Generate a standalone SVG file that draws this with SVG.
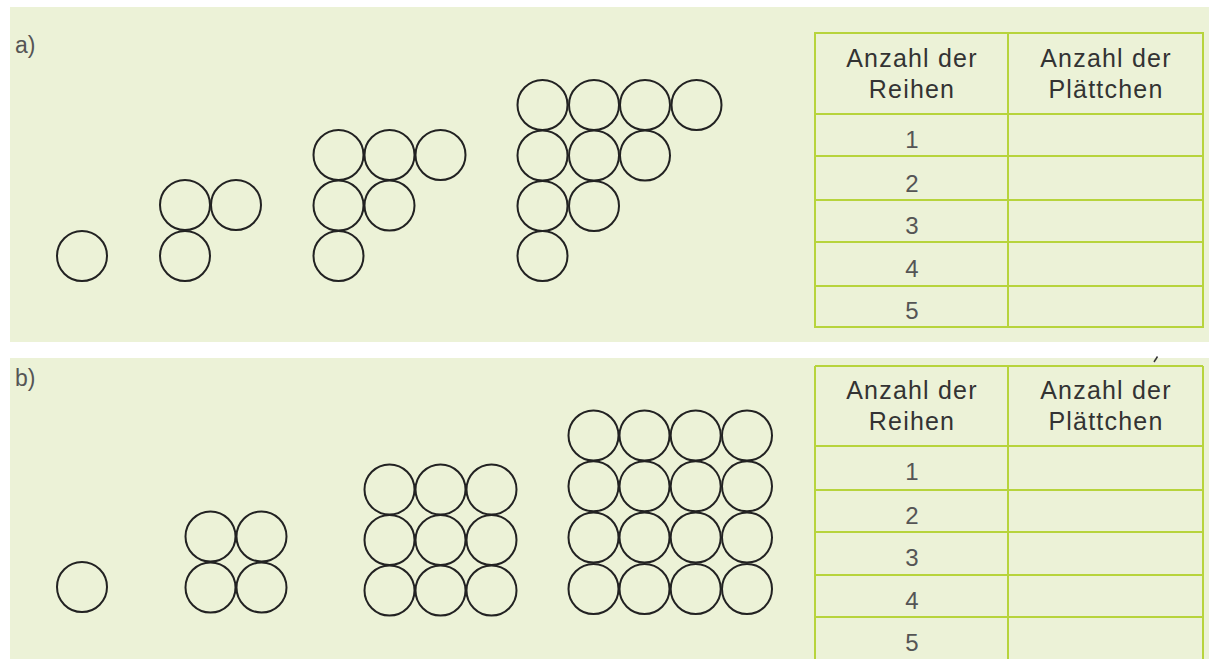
<svg xmlns="http://www.w3.org/2000/svg" width="1209" height="659" viewBox="0 0 1209 659">
<style>
.bg{fill:#ecf2d7}
.c{fill:none;stroke:#222;stroke-width:2}
.tl{fill:none;stroke:#b7d43c;stroke-width:2}
.h{font-family:"Liberation Sans",Arial,sans-serif;font-size:25px;letter-spacing:1.2px;fill:#333;text-anchor:middle}
.n{font-family:"Liberation Sans",Arial,sans-serif;font-size:24px;fill:#555;text-anchor:middle}
.lab{font-family:"Liberation Sans",Arial,sans-serif;font-size:23px;fill:#555}
</style>
<defs>
<circle id="t" r="25" class="c"/>
</defs>
<rect width="1209" height="659" fill="#fff"/>
<rect id="panelA" class="bg" x="10" y="7" width="1199" height="335"/>
<rect id="panelB" class="bg" x="10" y="358" width="1199" height="301"/>
<path d="M1157.5 356.5 L1154 362" fill="none" stroke="#333" stroke-width="1.5"/>
<text class="lab" x="15" y="53">a)</text>
<text class="lab" x="15" y="386">b)</text>
<g id="connectors"/>
<g id="a1">
<use href="#t" x="82" y="256"/>
</g>
<g id="a2">
<use href="#t" x="185" y="205"/><use href="#t" x="236" y="205"/>
<use href="#t" x="185" y="256"/>
</g>
<g id="a3">
<use href="#t" x="338.5" y="155"/><use href="#t" x="389.5" y="155"/><use href="#t" x="440.5" y="155"/>
<use href="#t" x="338.5" y="205.5"/><use href="#t" x="389.5" y="205.5"/>
<use href="#t" x="338.5" y="256"/>
</g>
<g id="a4">
<use href="#t" x="542.5" y="105"/><use href="#t" x="594" y="105"/><use href="#t" x="645" y="105"/><use href="#t" x="696.5" y="105"/>
<use href="#t" x="542.5" y="155.5"/><use href="#t" x="594" y="155.5"/><use href="#t" x="645" y="155.5"/>
<use href="#t" x="542.5" y="206"/><use href="#t" x="594" y="206"/>
<use href="#t" x="542.5" y="256"/>
</g>
<g id="b1">
<use href="#t" x="82" y="587"/>
</g>
<g id="b2">
<use href="#t" x="210.5" y="536.5"/><use href="#t" x="261.5" y="536.5"/>
<use href="#t" x="210.5" y="587.5"/><use href="#t" x="261.5" y="587.5"/>
</g>
<g id="b3">
<use href="#t" x="389.5" y="489.5"/><use href="#t" x="440.5" y="489.5"/><use href="#t" x="491.5" y="489.5"/>
<use href="#t" x="389.5" y="540"/><use href="#t" x="440.5" y="540"/><use href="#t" x="491.5" y="540"/>
<use href="#t" x="389.5" y="590.5"/><use href="#t" x="440.5" y="590.5"/><use href="#t" x="491.5" y="590.5"/>
</g>
<g id="b4">
<use href="#t" x="593.5" y="435.5"/><use href="#t" x="644.5" y="435.5"/><use href="#t" x="695.7" y="435.5"/><use href="#t" x="747" y="435.5"/>
<use href="#t" x="593.5" y="486.3"/><use href="#t" x="644.5" y="486.3"/><use href="#t" x="695.7" y="486.3"/><use href="#t" x="747" y="486.3"/>
<use href="#t" x="593.5" y="537.5"/><use href="#t" x="644.5" y="537.5"/><use href="#t" x="695.7" y="537.5"/><use href="#t" x="747" y="537.5"/>
<use href="#t" x="593.5" y="589"/><use href="#t" x="644.5" y="589"/><use href="#t" x="695.7" y="589"/><use href="#t" x="747" y="589"/>
</g>
<g id="tableA">
<rect class="tl" x="815" y="33" width="388" height="294"/>
<path class="tl" d="M1008 33V327M815 114H1203M815 156H1203M815 200H1203M815 242H1203M815 286H1203"/>
<text class="h" x="912" y="67">Anzahl der</text>
<text class="h" x="912" y="98">Reihen</text>
<text class="h" x="1106" y="67">Anzahl der</text>
<text class="h" x="1106" y="98">Plättchen</text>
<text class="n" x="912" y="148">1</text>
<text class="n" x="912" y="192">2</text>
<text class="n" x="912" y="234">3</text>
<text class="n" x="912" y="277">4</text>
<text class="n" x="912" y="319">5</text>
</g>
<g id="tableB">
<path class="tl" d="M815 366H1203M815 366V659M1008 366V659M1203 366V659M815 446H1203M815 490H1203M815 532H1203M815 575H1203M815 617H1203"/>
<text class="h" x="912" y="399">Anzahl der</text>
<text class="h" x="912" y="430">Reihen</text>
<text class="h" x="1106" y="399">Anzahl der</text>
<text class="h" x="1106" y="430">Plättchen</text>
<text class="n" x="912" y="480">1</text>
<text class="n" x="912" y="524">2</text>
<text class="n" x="912" y="566">3</text>
<text class="n" x="912" y="609">4</text>
<text class="n" x="912" y="651">5</text>
</g>
</svg>
